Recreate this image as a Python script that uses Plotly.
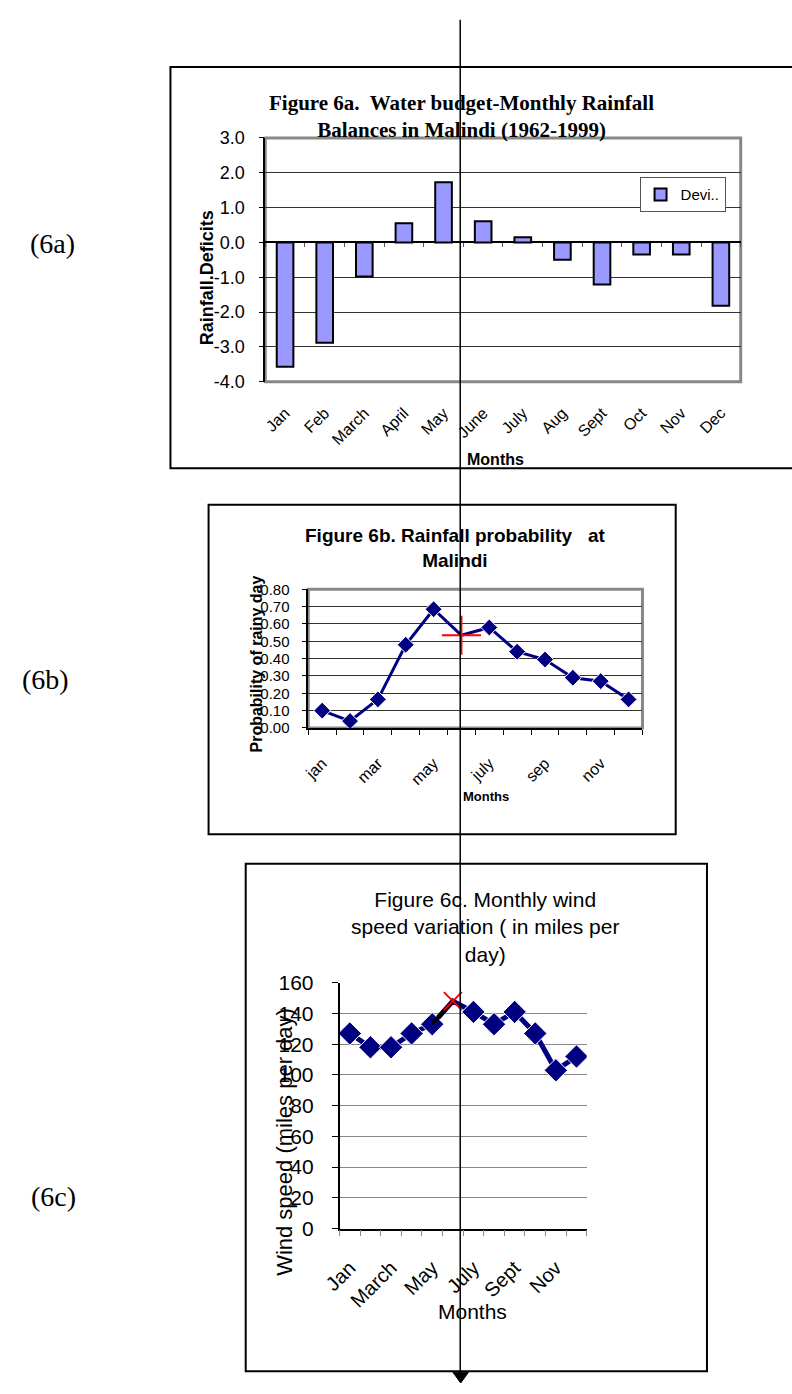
import plotly.graph_objects as go

W, H = 792, 1394

# ---------------- data ----------------
months_a = ["Jan", "Feb", "March", "April", "May", "June", "July", "Aug", "Sept", "Oct", "Nov", "Dec"]
deficits = [-3.57, -2.88, -0.98, 0.55, 1.73, 0.61, 0.15, -0.50, -1.21, -0.35, -0.35, -1.82]
ytick_vals_a = [-4, -3, -2, -1, 0, 1, 2, 3]
ytick_text_a = ["-4.0", "-3.0", "-2.0", "-1.0", "0.0", "1.0", "2.0", "3.0"]

months_b = ["jan", "feb", "mar", "apr", "may", "june", "july", "aug", "sep", "oct", "nov", "dec"]
rain_prob = [0.10, 0.04, 0.165, 0.48, 0.685, 0.535, 0.58, 0.44, 0.395, 0.29, 0.27, 0.165]

months_c = ["Jan", "Feb", "March", "April", "May", "June", "July", "Aug", "Sept", "Oct", "Nov", "Dec"]
wind_speed = [127, 118, 118, 127, 133, 148, 141, 133, 141, 127, 103, 112]

highlight = 5  # June point is shown as a red marker in 6b / 6c

# ---------------- helpers ----------------
def fx(p):
    return p / W

def fy(p):
    return 1 - p / H

SANS = "Liberation Sans, Arial, sans-serif"
SERIF = "Liberation Serif, Times New Roman, serif"
NAVY = "#000080"

idx_b = list(range(len(months_b)))
idx_c = list(range(len(months_c)))

fig = go.Figure()

# ---- 6a bars ----
fig.add_trace(go.Bar(
    x=months_a, y=deficits, name="Devi..",
    marker=dict(color="#9999FF", line=dict(color="black", width=2)),
    width=0.42, xaxis="x", yaxis="y", showlegend=True, hoverinfo="skip"))
fig.add_trace(go.Scatter(
    x=months_a, y=deficits, mode="markers", marker=dict(opacity=0),
    xaxis="x4", yaxis="y", showlegend=False, hoverinfo="skip"))

# ---- 6b line ----
fig.add_trace(go.Scatter(
    x=idx_b, y=rain_prob, mode="lines+markers",
    line=dict(color=NAVY, width=3),
    marker=dict(symbol="diamond", color=NAVY, opacity=1,
                size=[0 if i == highlight else 13 for i in idx_b]),
    xaxis="x2", yaxis="y2", showlegend=False, hoverinfo="skip"))
fig.add_trace(go.Scatter(
    x=[idx_b[highlight]], y=[rain_prob[highlight]], mode="markers",
    marker=dict(symbol="cross-thin", size=28, line=dict(color="red", width=2)),
    xaxis="x2", yaxis="y2", showlegend=False, hoverinfo="skip"))

# ---- 6c line ----
fig.add_trace(go.Scatter(
    x=idx_c, y=wind_speed, mode="lines+markers",
    line=dict(color=NAVY, width=5),
    marker=dict(symbol="diamond", color=NAVY, opacity=1,
                size=[0 if i == highlight else 18 for i in idx_c]),
    xaxis="x3", yaxis="y3", showlegend=False, hoverinfo="skip"))
fig.add_trace(go.Scatter(
    x=idx_c[highlight - 1:highlight + 1], y=wind_speed[highlight - 1:highlight + 1],
    mode="lines", line=dict(color="black", width=4),
    xaxis="x3", yaxis="y3", showlegend=False, hoverinfo="skip"))
fig.add_trace(go.Scatter(
    x=[idx_c[highlight]], y=[wind_speed[highlight]], mode="markers",
    marker=dict(symbol="x-thin", size=18, line=dict(color="red", width=2)),
    xaxis="x3", yaxis="y3", showlegend=False, hoverinfo="skip"))

# ---------------- axes ----------------
ya_dom = [fy(376), fy(128)]
ya_rng = [-4, 3]
zero_pos = ya_dom[0] + (0 - ya_rng[0]) / (ya_rng[1] - ya_rng[0]) * (ya_dom[1] - ya_dom[0])

fig.update_layout(
    xaxis=dict(domain=[fx(253), fx(739.5)], anchor="y", type="category",
               range=[-0.5, 11.5], tickangle=-45, ticks="", showgrid=False,
               showline=False, zeroline=False, ticklabelstandoff=18,
               tickfont=dict(family=SANS, size=16, color="black")),
    xaxis4=dict(overlaying="x", anchor="free", position=zero_pos, type="category",
                range=[-0.5, 11.5], tickson="boundaries", ticks="outside",
                ticklen=4, tickcolor="#555", showticklabels=False,
                showgrid=False, showline=False, zeroline=False),
    yaxis=dict(domain=ya_dom, anchor="x", range=ya_rng,
               tickvals=ytick_vals_a, ticktext=ytick_text_a,
               showgrid=True, gridcolor="#333", gridwidth=1,
               zeroline=True, zerolinecolor="black", zerolinewidth=2,
               showline=True, linecolor="black", linewidth=1.5,
               ticks="outside", ticklen=5, tickcolor="black", ticklabelstandoff=10,
               tickfont=dict(family=SANS, size=18, color="black")),

    xaxis2=dict(domain=[fx(297), fx(639)], anchor="y2", range=[-0.5, 11.5],
                tickvals=idx_b[::2], ticktext=months_b[::2], tickangle=-45,
                ticks="", showgrid=False, zeroline=False, ticklabelstandoff=18,
                showline=True, linecolor="black", linewidth=1.5,
                minor=dict(tickvals=[i - 0.5 for i in range(len(months_b) + 1)],
                           ticks="outside", ticklen=5, tickcolor="black", showgrid=False),
                tickfont=dict(family=SANS, size=16, color="black")),
    yaxis2=dict(domain=[fy(728), fy(587)], anchor="x2", range=[0, 0.8], dtick=0.1,
                tickformat=".2f", showgrid=True, gridcolor="#333", gridwidth=1,
                zeroline=False, showline=True, linecolor="black", linewidth=1.5,
                ticks="outside", ticklen=5, tickcolor="black", ticklabelstandoff=9,
                tickfont=dict(family=SANS, size=15, color="black")),

    xaxis3=dict(domain=[fx(329), fx(582)], anchor="y3", range=[-0.5, 11.5],
                tickvals=idx_c[::2], ticktext=months_c[::2], tickangle=-45,
                ticks="", showgrid=False, zeroline=False, ticklabelstandoff=18,
                showline=True, linecolor="black", linewidth=1.5,
                minor=dict(tickvals=[i - 0.5 for i in range(len(months_c) + 1)],
                           ticks="outside", ticklen=6, tickcolor="#888", showgrid=False),
                tickfont=dict(family=SANS, size=20, color="black")),
    yaxis3=dict(domain=[fy(1237), fy(987)], anchor="x3", range=[0, 160], dtick=20,
                showgrid=False, zeroline=False,
                minor=dict(tickvals=list(range(20, 160, 20)), showgrid=True,
                           gridcolor="#888", gridwidth=1, ticks=""),
                showline=True, linecolor="black", linewidth=1.5,
                ticks="outside", ticklen=6, tickcolor="black", ticklabelstandoff=14,
                tickfont=dict(family=SANS, size=21, color="black")),
)

# ---------------- legend ----------------
fig.update_layout(
    showlegend=True,
    legend=dict(x=fx(636), y=fy(168), xanchor="left", yanchor="top",
                bgcolor="white", bordercolor="#555", borderwidth=1,
                font=dict(family=SANS, size=15, color="black"),
                itemwidth=30, tracegroupgap=0),
)

# ---------------- shapes ----------------
shapes = [
    # frames
    dict(type="rect", xref="paper", yref="paper", x0=fx(156), x1=fx(800), y0=fy(464), y1=fy(56),
         line=dict(color="black", width=2)),
    dict(type="rect", xref="paper", yref="paper", x0=fx(195), x1=fx(673), y0=fy(836), y1=fy(501),
         line=dict(color="black", width=2)),
    dict(type="rect", xref="paper", yref="paper", x0=fx(233), x1=fx(705), y0=fy(1382), y1=fy(866),
         line=dict(color="black", width=2)),
    # gray plot-area borders
    dict(type="rect", xref="x domain", yref="y domain", x0=0, x1=1, y0=0, y1=1,
         line=dict(color="#888", width=3), layer="below"),
    dict(type="rect", xref="x2 domain", yref="y2 domain", x0=0, x1=1, y0=0, y1=1,
         line=dict(color="#888", width=3), layer="below"),
    # long vertical arrow
    dict(type="line", xref="paper", yref="paper", x0=fx(452.5), x1=fx(452.5), y0=fy(8), y1=fy(1385),
         line=dict(color="black", width=1.5)),
    dict(type="path", xref="paper", yref="paper",
         path=f"M {fx(445)} {fy(1383)} L {fx(461)} {fy(1383)} L {fx(453)} {fy(1394)} Z",
         fillcolor="black", line=dict(color="black", width=1)),
]
fig.update_layout(shapes=shapes)

# ---------------- text ----------------
def ann(text, x, y, size, family=SANS, angle=0):
    return dict(text=text, x=fx(x), y=fy(y), xref="paper", yref="paper",
                showarrow=False, xanchor="center", yanchor="middle", textangle=angle,
                font=dict(family=family, size=size, color="black"))

annotations = [
    ann("<b>Figure 6a.&nbsp; Water budget-Monthly Rainfall<br>Balances in Malindi (1962-1999)</b>",
        454, 106, 21, SERIF),
    ann("<b>Rainfall.Deficits</b>", 193, 270, 18, SANS, -90),
    ann("<b>Months</b>", 489, 455, 16),
    ann("<b>Figure 6b. Rainfall probability&nbsp;&nbsp; at<br>Malindi</b>", 447, 545, 19),
    ann("<b>Probability of rainy day</b>", 244, 663, 16, SANS, -90),
    ann("<b>Months</b>", 479, 798, 13),
    ann("Figure 6c. Monthly wind<br>speed variation ( in miles per<br>day)", 478, 930, 21),
    ann("Wind speed (miles per day)", 272, 1149, 22, SANS, -90),
    ann("Months", 465, 1321, 21),
    ann("(6a)", 35, 235, 28, SERIF),
    ann("(6b)", 28, 679, 28, SERIF),
    ann("(6c)", 36, 1204, 28, SERIF),
]
fig.update_layout(annotations=annotations)

fig.update_layout(
    width=W, height=H, margin=dict(l=0, r=0, t=0, b=0),
    paper_bgcolor="white", plot_bgcolor="white",
    bargap=0.58,
)

fig.write_html("out.html", config={"displayModeBar": False},
               post_script="document.body.style.margin='0px';")
